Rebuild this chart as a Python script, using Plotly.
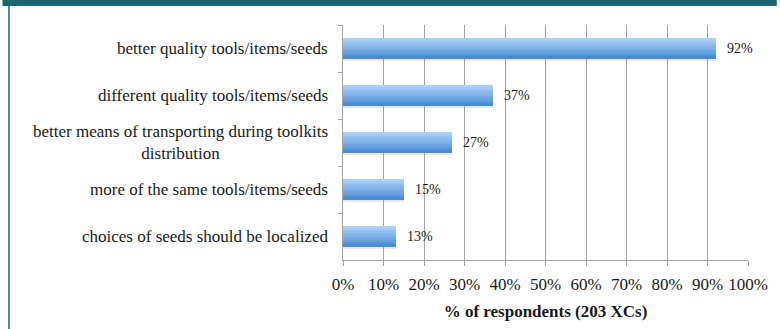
import plotly.graph_objects as go

categories = [
    "better quality tools/items/seeds",
    "different quality tools/items/seeds",
    "better means of transporting during toolkits<br>distribution",
    "more of the same tools/items/seeds",
    "choices of seeds should be localized",
]
values = [92, 37, 27, 15, 13]
value_labels = ["92%", "37%", "27%", "15%", "13%"]
x_ticks = [0, 10, 20, 30, 40, 50, 60, 70, 80, 90, 100]
x_tick_labels = ["0%", "10%", "20%", "30%", "40%", "50%", "60%", "70%", "80%", "90%", "100%"]
x_title = "% of respondents (203 XCs)"

FONT = "Times New Roman, Liberation Serif, serif"
W, H = 780, 329
L, R, T, B = 343, 29, 25, 69
pw, ph = W - L - R, H - T - B

def px_x(p):
    return (p - L) / pw

def px_y(p):
    return (H - B - p) / ph

fig = go.Figure()

bar_w = 0.43
# shadow
fig.add_trace(go.Bar(
    y=categories, x=values, orientation="h",
    width=0.07, offset=bar_w / 2 - 0.02,
    marker=dict(color="rgba(150,150,150,0.22)", line=dict(width=0)),
    hoverinfo="skip", showlegend=False,
))
top = (0xad, 0xd0, 0xf8)
bot = (0x4a, 0x8c, 0xd6)
mid = tuple((top[k] + bot[k]) // 2 for k in range(3))
# base bar (avoids seams between gradient strips)
fig.add_trace(go.Bar(
    y=categories, x=values, orientation="h",
    width=bar_w, offset=-bar_w / 2,
    marker=dict(color="rgb(%d,%d,%d)" % mid, line=dict(width=0)),
    hoverinfo="skip", showlegend=False,
))
# gradient strips
n = 12
sw = bar_w / n
for i in range(n):
    t = i / (n - 1)
    c = tuple(round(top[k] + (bot[k] - top[k]) * t) for k in range(3))
    fig.add_trace(go.Bar(
        y=categories, x=values, orientation="h",
        width=sw * 1.3 if i < n - 1 else sw, offset=-bar_w / 2 + i * sw,
        marker=dict(color="rgb(%d,%d,%d)" % c, line=dict(width=0)),
        hoverinfo="skip", showlegend=False,
    ))

annotations = []
for cat, v, lab in zip(categories, values, value_labels):
    annotations.append(dict(
        x=v, y=cat, xref="x", yref="y", text=lab, showarrow=False,
        xanchor="left", xshift=9, font=dict(family=FONT, size=14, color="#1a1a1a"),
    ))
    annotations.append(dict(
        x=0, y=cat, xref="paper", yref="y", text=cat, showarrow=False,
        xanchor="right", align="center", xshift=-13,
        font=dict(family=FONT, size=17, color="#1a1a1a"),
    ))

shapes = [
    dict(type="rect", xref="paper", yref="paper",
         x0=px_x(0), x1=px_x(W), y0=px_y(6), y1=px_y(0),
         fillcolor="#1b6670", line=dict(width=0), layer="above"),
    dict(type="line", xref="paper", yref="paper",
         x0=px_x(6.5), x1=px_x(6.5), y0=px_y(H), y1=px_y(3),
         line=dict(color="#1b6670", width=1.5), layer="above"),
]

fig.update_layout(
    width=W, height=H,
    margin=dict(l=L, r=R, t=T, b=B),
    paper_bgcolor="white", plot_bgcolor="white",
    barmode="overlay", bargap=0,
    showlegend=False,
    font=dict(family=FONT, size=17, color="#1a1a1a"),
    annotations=annotations,
    shapes=shapes,
    xaxis=dict(
        range=[0, 100], tickmode="array", tickvals=x_ticks, ticktext=x_tick_labels,
        showgrid=True, gridcolor="#a3a3a3", gridwidth=1.4,
        showline=True, linecolor="#a3a3a3", linewidth=1.4,
        ticks="outside", ticklen=5, tickcolor="#a3a3a3", tickwidth=1.4,
        ticklabelstandoff=3,
        tickfont=dict(family=FONT, size=17, color="#1a1a1a"),
        zeroline=False, fixedrange=True,
        title=dict(text="<b>" + x_title + "</b>", standoff=12,
                   font=dict(family=FONT, size=17, color="#1a1a1a")),
    ),
    yaxis=dict(
        type="category", categoryorder="array", categoryarray=categories,
        autorange="reversed", tickson="boundaries",
        showticklabels=False, showgrid=False,
        showline=True, linecolor="#a3a3a3", linewidth=1.4,
        ticks="outside", ticklen=4, tickcolor="#a3a3a3", tickwidth=1.4,
        fixedrange=True,
    ),
)

fig.write_html("out.html")
